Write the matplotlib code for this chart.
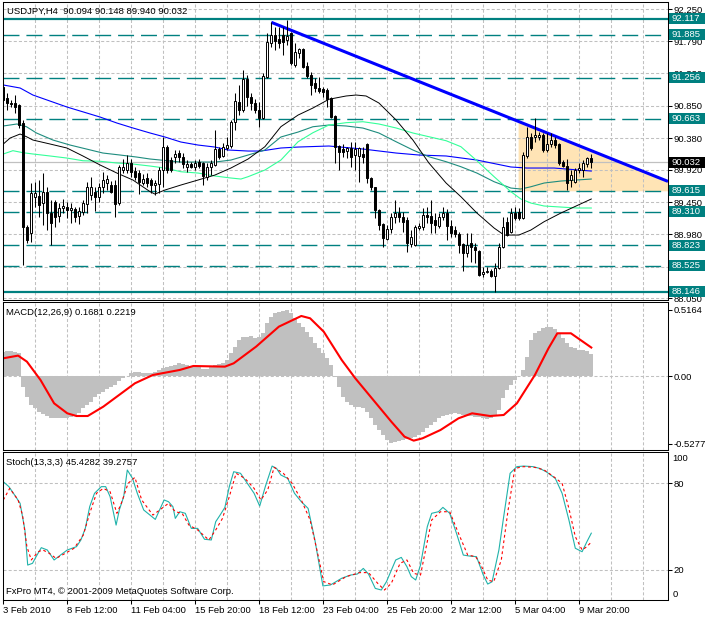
import numpy as np
import matplotlib
matplotlib.use("Agg")
import matplotlib.pyplot as plt
from matplotlib.patches import Rectangle
from matplotlib.transforms import blended_transform_factory

plt.rcParams['font.family'] = ['Liberation Sans', 'DejaVu Sans']
plt.rcParams['lines.scale_dashes'] = False

# USDJPY H4 candles, bar 0 = 3 Feb 2010
opens = [91.128, 90.959, 90.886, 90.886, 90.862, 90.595, 89.093, 89.006, 89.529, 89.539,
         89.433, 89.602, 89.287, 89.457, 89.248, 89.360, 89.384, 89.336, 89.345, 89.248,
         89.311, 89.423, 89.554, 89.602, 89.520, 89.665, 89.723, 89.699, 89.699, 89.433,
         89.917, 89.917, 90.014, 89.907, 89.878, 89.733, 89.796, 89.772, 89.699, 89.714,
         89.917, 90.256, 90.063, 90.111, 90.169, 90.111, 89.966, 90.004, 89.966, 90.038,
         90.014, 89.820, 89.966, 89.990, 90.217, 90.121, 90.232, 90.266, 90.620, 90.910,
         90.789, 91.235, 90.983, 90.886, 90.789, 90.668, 91.274, 91.768, 91.879, 91.816,
         91.879, 91.807, 91.904, 91.443, 91.613, 91.671, 91.429, 91.298, 91.177, 91.104,
         91.090, 91.080, 90.959, 90.702, 90.266, 90.217, 90.198, 90.232, 90.135, 90.121,
         90.150, 90.295, 89.796, 89.665, 89.336, 89.132, 88.909, 89.055, 89.229, 89.297,
         89.239, 89.190, 88.841, 88.827, 89.069, 89.093, 89.263, 89.248, 89.190, 89.103,
         89.229, 89.297, 89.100, 89.050, 88.980, 88.841, 88.706, 88.851, 88.803, 88.745,
         88.405, 88.439, 88.454, 88.376, 88.488, 88.793, 89.166, 89.021, 89.297, 89.311,
         89.215, 90.121, 90.401, 90.401, 90.392, 90.426, 90.208, 90.295, 90.353, 90.295,
         90.033, 89.980, 89.772, 89.747, 89.917, 89.917, 90.004, 90.094]
highs = [91.216, 91.031, 90.934, 91.007, 90.876, 90.644, 89.118, 89.723, 89.747, 89.772,
         89.868, 89.675, 89.481, 89.481, 89.433, 89.491, 89.457, 89.433, 89.384, 89.384,
         89.481, 89.747, 89.820, 89.675, 89.733, 89.893, 89.844, 89.762, 89.772, 89.990,
         90.072, 90.130, 90.072, 89.966, 89.917, 89.858, 89.868, 89.796, 89.772, 89.966,
         90.401, 90.280, 90.111, 90.208, 90.208, 90.159, 90.063, 90.038, 90.063, 90.072,
         90.038, 90.014, 90.063, 90.498, 90.256, 90.305, 90.401, 90.644, 91.031, 91.153,
         91.371, 91.298, 91.031, 90.944, 90.910, 91.322, 91.904, 92.064, 92.000, 91.990,
         92.000, 92.100, 91.928, 91.758, 91.685, 91.685, 91.492, 91.346, 91.249, 91.264,
         91.128, 91.104, 90.983, 90.716, 90.280, 90.295, 90.256, 90.329, 90.329, 90.256,
         90.256, 90.305, 89.820, 89.675, 89.345, 89.142, 89.118, 89.287, 89.481, 89.384,
         89.311, 89.239, 89.045, 89.118, 89.142, 89.360, 89.374, 89.481, 89.287, 89.287,
         89.384, 89.345, 89.190, 89.100, 89.021, 88.851, 88.997, 88.997, 88.851, 88.754,
         88.512, 88.512, 88.473, 88.560, 88.851, 89.239, 89.239, 89.360, 89.384, 89.360,
         90.184, 90.547, 90.450, 90.668, 90.474, 90.450, 90.450, 90.460, 90.401, 90.305,
         90.063, 90.082, 89.917, 89.941, 90.024, 90.063, 90.111, 90.148]
lows = [90.910, 90.789, 90.838, 90.741, 90.523, 88.536, 88.851, 88.875, 89.384, 89.239,
        89.118, 89.045, 88.827, 89.093, 89.166, 89.287, 89.215, 89.152, 89.166, 89.132,
        89.263, 89.297, 89.481, 89.326, 89.457, 89.588, 89.626, 89.578, 89.229, 89.408,
        89.868, 89.868, 89.820, 89.772, 89.568, 89.699, 89.675, 89.578, 89.554, 89.588,
        89.675, 89.868, 89.893, 90.014, 90.038, 89.941, 89.893, 89.941, 89.917, 89.941,
        89.699, 89.772, 89.844, 89.975, 90.072, 90.111, 90.208, 90.232, 90.498, 90.716,
        90.765, 90.847, 90.789, 90.741, 90.547, 90.653, 91.249, 91.710, 91.661, 91.685,
        91.589, 91.734, 91.443, 91.419, 91.540, 91.395, 91.249, 91.007, 91.056, 91.031,
        90.983, 90.838, 90.668, 90.014, 89.917, 90.111, 90.087, 89.966, 89.917, 89.747,
        90.014, 89.723, 89.626, 89.215, 89.045, 88.793, 88.900, 88.997, 89.152, 89.166,
        89.021, 88.730, 88.803, 88.812, 89.045, 89.045, 89.142, 88.997, 88.997, 89.069,
        89.190, 88.900, 88.948, 88.940, 88.706, 88.454, 88.657, 88.585, 88.560, 88.376,
        88.357, 88.415, 88.367, 88.149, 88.473, 88.778, 88.958, 88.997, 89.190, 89.190,
        89.200, 90.087, 90.208, 90.329, 90.353, 90.184, 90.184, 90.256, 90.232, 89.990,
        89.956, 89.626, 89.675, 89.733, 89.878, 89.820, 89.966, 89.940]
closes = [90.934, 90.886, 90.876, 90.838, 90.571, 89.093, 88.900, 89.578, 89.578, 89.408,
          89.602, 89.287, 89.152, 89.239, 89.360, 89.394, 89.336, 89.360, 89.239, 89.326,
          89.433, 89.675, 89.665, 89.520, 89.665, 89.772, 89.781, 89.602, 89.423, 89.956,
          89.966, 90.014, 89.893, 89.810, 89.747, 89.781, 89.733, 89.699, 89.733, 89.917,
          90.256, 89.917, 89.917, 90.150, 90.101, 90.004, 90.004, 89.966, 90.014, 89.975,
          89.830, 89.966, 90.014, 90.217, 90.111, 90.256, 90.280, 90.620, 90.925, 90.789,
          91.235, 90.983, 90.886, 90.789, 90.668, 91.283, 91.782, 91.879, 91.797, 91.768,
          91.782, 91.865, 91.467, 91.637, 91.671, 91.419, 91.283, 91.153, 91.104, 91.070,
          91.056, 90.944, 90.692, 90.256, 90.184, 90.184, 90.232, 90.111, 90.217, 90.232,
          90.111, 89.796, 89.665, 89.336, 89.118, 88.924, 89.055, 89.229, 89.297, 89.239,
          89.166, 88.851, 88.938, 89.093, 89.103, 89.263, 89.239, 89.152, 89.118, 89.239,
          89.297, 89.100, 88.997, 88.980, 88.827, 88.706, 88.827, 88.793, 88.754, 88.391,
          88.439, 88.454, 88.376, 88.488, 88.793, 89.093, 88.972, 89.297, 89.215, 89.215,
          90.135, 90.401, 90.232, 90.426, 90.426, 90.208, 90.295, 90.353, 90.280, 90.024,
          89.975, 89.733, 89.844, 89.917, 89.941, 90.014, 90.087, 90.032]

# moving averages at sample bars
ma_blue_bar = [0, 4.2, 7.4, 15.9, 24.2, 28.4, 32.4, 36.7, 40.4, 44.4, 48.7, 52.9, 56.2, 61.2,
               64.4, 69.4, 73.7, 81.4, 89.9, 98.2, 103.9, 110.7, 118.4, 126.9, 130.9, 137.7, 147]
ma_blue = [91.153, 91.109, 91.007, 90.833, 90.687, 90.600, 90.528, 90.455, 90.397, 90.324,
           90.280, 90.251, 90.208, 90.193, 90.193, 90.237, 90.251, 90.266, 90.222, 90.164,
           90.135, 90.121, 90.062, 89.961, 89.946, 89.946, 89.902]
ma_teal_bar = [0, 3.4, 5.8, 8.3, 12.4, 16.7, 20.8, 24.9, 29.2, 33.3, 36.7, 44.4, 52.9, 56.9,
               61.2, 65.4, 69.4, 73.7, 77.4, 81.4, 85.7, 89.9, 93.9, 98.2, 102.4, 106.4, 110.7,
               114.4, 118.4, 122.7, 126.9, 129.4, 131.9, 135.2, 139.4, 147]
ma_teal = [90.557, 90.586, 90.546, 90.455, 90.353, 90.280, 90.222, 90.164, 90.135, 90.106,
           90.077, 90.033, 90.033, 90.062, 90.135, 90.208, 90.397, 90.469, 90.546, 90.571,
           90.557, 90.527, 90.455, 90.328, 90.208, 90.110, 90.038, 89.965, 89.873, 89.747,
           89.655, 89.641, 89.674, 89.728, 89.757, 89.786]
ma_green_bar = [0, 2.4, 4.9, 7.4, 11.7, 15.9, 19.9, 24.2, 28.4, 32.4, 36.7, 40.4, 44.4, 48.7,
                52.9, 56.9, 59.4, 61.2, 65.4, 69.4, 73.7, 77.4, 81.4, 85.7, 89.9, 93.9, 98.2,
                102.4, 106.4, 110.7, 114.4, 118.4, 122.7, 126.9, 129.4, 131.9, 135.2, 139.4,
                143.4, 147]
ma_green = [90.150, 90.198, 90.169, 90.150, 90.121, 90.091, 90.052, 90.044, 90.019, 90.004,
            89.975, 89.946, 89.892, 89.873, 89.830, 89.801, 89.786, 89.820, 89.917, 90.062,
            90.328, 90.459, 90.571, 90.605, 90.619, 90.586, 90.528, 90.455, 90.401, 90.343,
            90.256, 90.052, 89.820, 89.602, 89.496, 89.437, 89.394, 89.379, 89.365, 89.365]
ma_black_bar = [0, 1.7, 4.2, 5.8, 7.4, 11.7, 15.9, 19.9, 24.2, 28.4, 32.4, 36.7, 37.9, 40.4,
                44.4, 48.7, 52.9, 56.9, 61.2, 65.4, 69.4, 73.7, 77.4, 81.4, 85.7, 88.2, 90.7,
                93.9, 98.2, 102.4, 106.4, 110.7, 114.4, 118.4, 122.7, 125.2, 128.9, 131.9,
                135.2, 139.4, 147]
ma_black = [90.295, 90.382, 90.440, 90.401, 90.353, 90.295, 90.237, 90.121, 89.990, 89.873,
            89.772, 89.602, 89.568, 89.626, 89.699, 89.772, 89.844, 89.946, 90.077, 90.256,
            90.547, 90.716, 90.818, 90.945, 90.993, 91.007, 90.993, 90.891, 90.644, 90.353,
            90.019, 89.728, 89.529, 89.292, 89.074, 88.972, 88.972, 89.045, 89.166, 89.292,
            89.496]

# MACD(12,26,9): histogram per bar, signal line at sample bars
macd_hist = [0.19, 0.195, 0.195, 0.19, 0.177, -0.083, -0.161, -0.226, -0.252, -0.278,
             -0.296, -0.312, -0.325, -0.33, -0.33, -0.327, -0.325, -0.317, -0.304, -0.286,
             -0.252, -0.226, -0.2, -0.166, -0.14, -0.122, -0.101, -0.083, -0.07, -0.036,
             -0.018, 0.0, 0.021, 0.029, 0.029, 0.026, 0.021, 0.021, 0.034, 0.047,
             0.065, 0.073, 0.078, 0.086, 0.099, 0.094, 0.086, 0.078, 0.073, 0.068,
             0.052, 0.052, 0.068, 0.086, 0.094, 0.099, 0.125, 0.177, 0.229, 0.281,
             0.307, 0.307, 0.312, 0.294, 0.307, 0.338, 0.411, 0.463, 0.489, 0.502,
             0.51, 0.515, 0.494, 0.45, 0.416, 0.385, 0.346, 0.307, 0.26, 0.216,
             0.177, 0.138, 0.086, -0.01, -0.083, -0.161, -0.2, -0.226, -0.239, -0.244,
             -0.252, -0.278, -0.33, -0.382, -0.421, -0.46, -0.499, -0.52, -0.512, -0.504,
             -0.499, -0.494, -0.486, -0.478, -0.46, -0.434, -0.408, -0.382, -0.356, -0.33,
             -0.312, -0.304, -0.296, -0.291, -0.296, -0.304, -0.312, -0.312, -0.317, -0.322,
             -0.33, -0.338, -0.33, -0.312, -0.265, -0.174, -0.109, -0.07, -0.031, 0.0,
             0.047, 0.151, 0.281, 0.333, 0.354, 0.372, 0.38, 0.38, 0.364, 0.333,
             0.294, 0.255, 0.229, 0.216, 0.203, 0.203, 0.198, 0.168]
macd_sig_bar = [0, 3.7, 5.9, 9.3, 12.7, 16, 18.3, 21.1, 25, 32.9, 37.4, 44.1, 47.5, 55.4, 57.6,
                63.2, 68.9, 74.5, 76.7, 80.1, 84.6, 88, 92.5, 97, 100.3, 102.6, 104.8, 109.3,
                113.8, 117.2, 121.7, 125.1, 128.4, 132.9, 136.3, 138.5, 141.9, 147]
macd_sig = [0.138, 0.159, 0.112, -0.031, -0.213, -0.291, -0.312, -0.312, -0.239, -0.057,
            0.008, 0.047, 0.078, 0.073, 0.099, 0.229, 0.385, 0.468, 0.45, 0.346, 0.125,
            -0.018, -0.187, -0.356, -0.473, -0.504, -0.486, -0.421, -0.33, -0.291, -0.312,
            -0.304, -0.213, 0.008, 0.216, 0.333, 0.333, 0.222]

# Stoch(13,3,3)
stoch_main_bar = [0, 1.4, 3.1, 4.2, 5.4, 6.1, 7.3, 8.2, 9.5, 11, 12.7, 14.3, 16, 18.3, 19.4,
                  20.5, 21.6, 22.8, 24.5, 25.6, 26.7, 28.2, 29, 30.1, 31, 32.3, 33.5, 35.1, 38,
                  40.2, 41.3, 42.4, 43, 44.1, 45.5, 47, 48.6, 50.3, 52, 53.1, 54.2, 55.4, 56.5,
                  57.6, 59.3, 61, 62.7, 64.1, 65.5, 67.2, 68.3, 69.4, 71.1, 72.8, 74.5, 76.2,
                  77.9, 79.9, 81.8, 84.6, 86.8, 88.5, 90, 91.3, 93, 94.5, 95.8, 98.1, 99.5,
                  100.9, 102, 103.1, 104.3, 106, 107.1, 108.8, 109.9, 111.6, 113.3, 115, 116.6,
                  118.3, 120, 121.1, 122.2, 123.9, 125.1, 126.7, 128.4, 130.1, 132.4, 134.1,
                  135.7, 138, 139.7, 141.4, 143, 144.7, 145.9, 147]
stoch_main = [80.9, 77.5, 70.6, 66.0, 47.6, 23.4, 24.6, 29.2, 35.4, 33.8, 26.9, 30.3, 33.8,
              36.1, 40.7, 48.7, 63.7, 72.9, 77.5, 77.5, 70.6, 51.0, 61.4, 70.6, 89.0, 83.2,
              72.9, 61.4, 54.9, 68.3, 67.1, 63.7, 55.6, 60.2, 59.1, 48.7, 48.7, 41.2, 40.7,
              53.3, 57.9, 63.2, 77.5, 87.8, 86.7, 79.8, 72.9, 64.1, 77.5, 91.7, 90.1, 85.5,
              83.2, 72.9, 67.1, 62.5, 40.7, 9.0, 9.7, 14.3, 16.5, 17.2, 21.1, 17.2, 7.3, 6.2,
              12.0, 26.9, 28.7, 22.3, 15.4, 13.1, 23.4, 49.9, 59.1, 60.2, 63.2, 59.1, 45.3,
              30.3, 29.6, 29.2, 16.5, 10.3, 11.9, 33.8, 56.8, 86.7, 91.3, 91.7, 91.3, 90.1,
              87.8, 83.2, 72.9, 54.5, 35.0, 32.6, 39.5, 45.4]
stoch_sig_bar = [0, 1.6, 3.7, 4.8, 5.9, 7, 8.7, 9.9, 11.5, 13.2, 15.5, 17.7, 20, 21.6, 23.3,
                 25, 26.7, 28.4, 29.5, 31.2, 32.9, 34.6, 37.4, 39.1, 41.3, 43, 44.7, 46.4,
                 48.6, 51.4, 53.1, 54.8, 56.5, 58.2, 60.4, 62.7, 64.4, 66.1, 67.7, 70, 72.2,
                 74.5, 76.7, 78.4, 80.1, 82.3, 85.7, 89.1, 91.3, 93.6, 95.3, 97, 99.2, 100.9,
                 102.6, 104.3, 105.4, 107.1, 109.3, 111.6, 113.8, 116.1, 118.1, 119.4, 121.1,
                 122.6, 124.5, 126.2, 127.9, 130.1, 132.9, 135.2, 137.4, 139.7, 141.4, 143,
                 144.7, 145.9, 147]
stoch_sig = [68.3, 76.3, 68.3, 57.9, 36.1, 26.9, 32.6, 33.8, 31.5, 28.0, 31.5, 35.0, 44.1,
             59.1, 72.9, 76.3, 74.0, 59.1, 66.0, 79.8, 83.9, 68.3, 57.9, 61.4, 66.0, 60.2,
             59.1, 51.0, 47.6, 40.7, 47.6, 55.6, 70.6, 86.7, 83.2, 76.3, 68.3, 75.2, 90.8,
             86.7, 79.8, 68.3, 54.5, 33.8, 12.0, 9.7, 15.4, 18.2, 18.2, 10.8, 6.2, 10.8,
             24.6, 26.9, 17.7, 16.5, 31.5, 54.5, 60.2, 60.2, 45.3, 30.3, 29.2, 23.4, 13.1,
             11.9, 26.9, 61.4, 90.1, 91.3, 90.8, 89.0, 84.8, 79.8, 62.5, 43.0, 33.8, 36.1,
             39.3]

# horizontal levels drawn on the chart
levels = [92.117, 91.885, 91.256, 90.663, 89.615, 89.310, 88.823, 88.525, 88.146]
level_solid = [True, False, False, False, False, False, False, False, True]
last_price = 90.032

price_ticks = [92.250, 91.790, 91.320, 90.850, 90.380, 89.920, 89.450, 88.980, 88.510, 88.050]
# 88.510 sits fully behind the 88.525 box, so its label is left blank
price_labels = ['92.250', '91.790', '91.320', '90.850', '90.380', '89.920', '89.450',
                '88.980', '', '88.050']

# trend line through the 18 Feb high, and the shaded zone under it
trend_bars = [67, 130]
trend_prices = [92.064, 90.595]
zone_start = 128.7
zone_floor = 89.615

time_ticks = [0, 16, 32, 48, 64, 80, 96, 112, 128, 144]
time_labels = ['3 Feb 2010', '8 Feb 12:00', '11 Feb 04:00', '15 Feb 20:00', '18 Feb 12:00',
               '23 Feb 04:00', '25 Feb 20:00', '2 Mar 12:00', '5 Mar 04:00', '9 Mar 20:00']

TEAL = '#008080'
GRID = dict(color='#c0c0c0', lw=0.75, ls=(0, (2.2, 1.5)), zorder=0.5)
FS = 6.8

W, H = 705, 617
fig = plt.figure(figsize=(W / 100, H / 100), dpi=100)


def pane(top, bottom):
    a = fig.add_axes([3 / W, 1 - bottom / H, 665 / W, (bottom - top) / H])
    a.set_xlim(-0.075, 166.175)
    for s in a.spines.values():
        s.set_linewidth(0.75)
    a.yaxis.tick_right()
    a.tick_params(axis='y', length=3, width=0.75, pad=1.2, labelsize=FS)
    a.set_xticks([])
    for b in range(8, 167, 8):
        a.axvline(b, **GRID)
    return a


ax = pane(2, 300)
ax_macd = pane(302, 450)
ax_st = pane(452, 600)

# ---- main price pane ----
ax.set_ylim(88.028, 92.359)
for p in price_ticks:
    ax.axhline(p, **GRID)
ax.set_yticks(price_ticks)
ax.set_yticklabels(price_labels)

x_right = ax.get_xlim()[1]
slope = (trend_prices[1] - trend_prices[0]) / (trend_bars[1] - trend_bars[0])
tx = np.array([trend_bars[0], x_right])
ty = trend_prices[0] + slope * (tx - trend_bars[0])
zx = np.array([zone_start, x_right])
zy = trend_prices[0] + slope * (zx - trend_bars[0])
ax.fill_between(zx, zone_floor, zy, color='#ffe4b5', lw=0, zorder=0.2)

for lv, solid in zip(levels, level_solid):
    if solid:
        ax.axhline(lv, color=TEAL, lw=1.6, zorder=1)
    else:
        ax.axhline(lv, color=TEAL, lw=1.0, ls=(0, (11.5, 5)), zorder=1)
ax.axhline(last_price, color='#c0c0c0', lw=0.9, zorder=1)

ax.plot(ma_blue_bar, ma_blue, color='#0000ff', lw=0.8, zorder=2)
ax.plot(ma_teal_bar, ma_teal, color='#1e8c7e', lw=0.8, zorder=2)
ax.plot(ma_green_bar, ma_green, color='#33ff99', lw=0.8, zorder=2)
ax.plot(ma_black_bar, ma_black, color='black', lw=0.7, zorder=2)

ax.plot(tx, ty, color='#0000ff', lw=2.2, zorder=3, solid_capstyle='butt')

o = np.array(opens)
h = np.array(highs)
l = np.array(lows)
c = np.array(closes)
idx = np.arange(len(o))
up = c >= o
ax.vlines(idx, l, h, color='black', lw=0.75, zorder=4)
ax.bar(idx, np.maximum(np.abs(c - o), 0.006), bottom=np.minimum(o, c), width=0.55,
       color=np.where(up, 'white', 'black'), edgecolor='black', linewidth=0.7, zorder=5)

# price boxes on the right scale
ppu = 298 / (92.359 - 88.028)
bh = 11 / ppu
tr = blended_transform_factory(ax.transAxes, ax.transData)
for lv, bg in [(v, TEAL) for v in levels] + [(last_price, 'black')]:
    ax.add_patch(Rectangle((1.0015, lv - bh / 2), 0.0541, bh, transform=tr,
                           facecolor=bg, edgecolor='none', clip_on=False, zorder=10))
    ax.text(1.0055, lv, f'{lv:.3f}', transform=tr, color='white', fontsize=FS,
            va='center', ha='left', zorder=11, clip_on=False)

# ---- MACD pane ----
ax_macd.set_ylim(-0.577, 0.577)
ax_macd.axhline(0, **GRID)
ax_macd.bar(idx, macd_hist, width=1.0, color='#c0c0c0', lw=0, zorder=1)
ax_macd.plot(macd_sig_bar, macd_sig, color='#ff0000', lw=1.5, zorder=2)
ax_macd.set_yticks([0.5164, 0.0, -0.5277])
ax_macd.set_yticklabels(['0.5164', '0.00', '-0.5277'])

# ---- Stochastic pane ----
ax_st.set_ylim(-0.7, 101.4)
for v in (80, 20):
    ax_st.axhline(v, **GRID)
ax_st.plot(stoch_main_bar, stoch_main, color='#20b2aa', lw=0.8, zorder=2)
ax_st.plot(stoch_sig_bar, stoch_sig, color='#ff0000', lw=0.8, ls=(0, (2, 2)), zorder=2)
ax_st.set_yticks([80, 20])
ax_st.set_yticklabels(['80', '20'])
str_ = blended_transform_factory(ax_st.transAxes, ax_st.transData)
ax_st.text(1.0065, 100, '100', transform=str_, fontsize=FS, va='top', ha='left', clip_on=False)
ax_st.text(1.0065, 0, '0', transform=str_, fontsize=FS, va='bottom', ha='left', clip_on=False)

ax_st.set_xticks(time_ticks)
ax_st.set_xticklabels(time_labels, ha='left')
ax_st.tick_params(axis='x', length=3, width=0.75, pad=1.5, labelsize=FS)

# captions
fig.text(7 / W, 1 - 11 / H, 'USDJPY,H4  90.094 90.148 89.940 90.032', fontsize=FS, va='center')
fig.text(6 / W, 1 - 312.5 / H, 'MACD(12,26,9) 0.1681 0.2219', fontsize=FS, va='center')
fig.text(6 / W, 1 - 462.5 / H, 'Stoch(13,3,3) 45.4282 39.2757', fontsize=FS, va='center')
fig.text(6 / W, 1 - 591.5 / H, 'FxPro MT4, \u00a9 2001-2009 MetaQuotes Software Corp.',
         fontsize=FS, va='center')

fig.savefig('out.png', dpi=100)
